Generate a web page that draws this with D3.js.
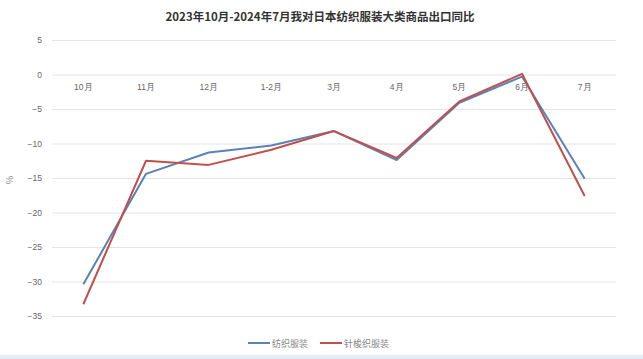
<!DOCTYPE html>
<html><head><meta charset="utf-8">
<script src="https://cdn.jsdelivr.net/npm/d3@7"></script>
<style>body{margin:0;background:#fff;}svg{display:block;font-family:"Noto Sans CJK SC","Liberation Sans",sans-serif;}</style>
</head><body><svg id="c" width="643" height="359"></svg>
<script>
const categories = ["10月","11月","12月","1-2月","3月","4月","5月","6月","7月"];
const woven = [-30.4,-14.4,-11.3,-10.3,-8.2,-12.4,-4.1,-0.3,-15.1];
const knit = [-33.3,-12.5,-13.1,-10.9,-8.2,-12.1,-3.9,0.1,-17.6];
const yTicks = [5,0,-5,-10,-15,-20,-25,-30,-35];
const seriesNames = ["纺织服装","针梭织服装"];
const colors = ["#5a82b4","#c0504d"];

const svg = d3.select("#c");
const L = 52, R = 616, T = 40, B = 316;
const x = d3.scaleBand().domain(categories).range([L, R]);
const y = d3.scaleLinear().domain([5, -35]).range([T, B]);

svg.append("rect").attr("x",0).attr("y",355).attr("width",643).attr("height",4).attr("fill","#e6eef8");

svg.append("text").attr("x",320).attr("y",21).attr("text-anchor","middle")
  .attr("font-size",11.5).attr("font-weight","bold").attr("fill","#333").text("2023年10月-2024年7月我对日本纺织服装大类商品出口同比");

const gy = svg.append("g").attr("transform",`translate(${L},0)`)
  .call(d3.axisLeft(y).tickValues(yTicks).tickSize(-(R-L)).tickPadding(10).tickFormat(d3.format("d")));
gy.select(".domain").remove();
gy.selectAll(".tick line").attr("stroke","#e4e4e4");
gy.selectAll(".tick text").attr("fill","#666").attr("font-size",8.5).attr("font-family","Liberation Sans, sans-serif");

svg.append("text").attr("transform","translate(13,180) rotate(-90)").attr("text-anchor","middle")
  .attr("font-size",9).attr("fill","#888").text("%");

const gx = svg.append("g").attr("transform",`translate(0,${y(0)})`)
  .call(d3.axisBottom(x).tickSize(0).tickPadding(9));
gx.select(".domain").remove();
gx.selectAll(".tick text").attr("fill","#666").attr("font-size",8.5);

const line = d3.line().x((d,i)=>x(categories[i])+x.bandwidth()/2).y(d=>y(d));
[woven, knit].forEach((s,k)=>{
  svg.append("path").datum(s).attr("d",line).attr("fill","none")
    .attr("stroke",colors[k]).attr("stroke-width",2).attr("stroke-linejoin","round");
});

const lg = [[248,272],[320,344]];
seriesNames.forEach((n,k)=>{
  svg.append("line").attr("x1",lg[k][0]).attr("x2",lg[k][0]+22).attr("y1",343).attr("y2",343)
    .attr("stroke",colors[k]).attr("stroke-width",2);
  svg.append("text").attr("x",lg[k][1]).attr("y",346.5).attr("font-size",9).attr("fill","#888").text(n);
});
</script></body></html>
